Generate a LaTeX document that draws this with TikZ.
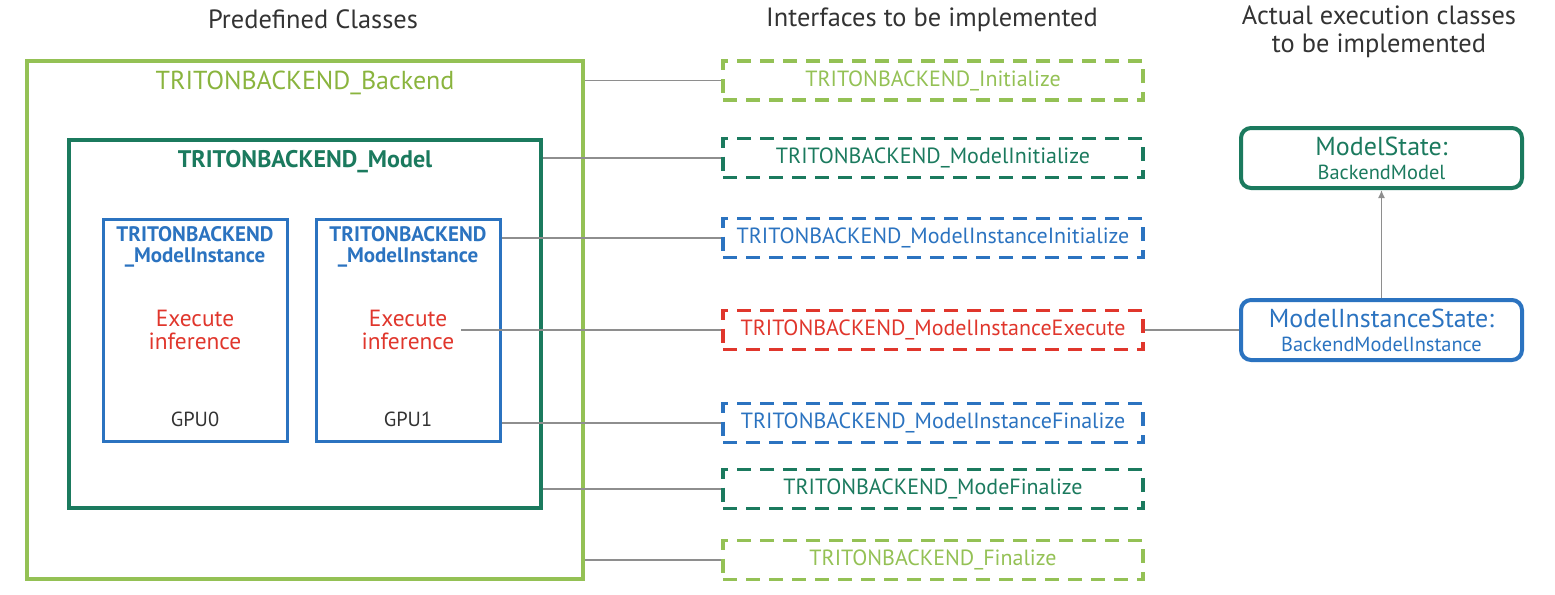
\documentclass[tikz,border=0pt]{standalone}
\usepackage{fontspec}
\setmainfont{PT Sans}
\usetikzlibrary{positioning,arrows.meta}

\definecolor{tbLime}{HTML}{94C155}
\definecolor{tbLimeText}{HTML}{8AB43E}
\definecolor{tbTeal}{HTML}{1B7A5E}
\definecolor{tbBlue}{HTML}{2B73C0}
\definecolor{tbRed}{HTML}{E0362C}
\definecolor{tbGray}{HTML}{8E8E8E}
\definecolor{tbText}{HTML}{333333}

\tikzset{
  classbox/.style={draw, line width=2pt, inner sep=0pt},
  instbox/.style={draw=tbBlue, line width=1.5pt, inner sep=0pt, minimum width=92pt, minimum height=111pt},
  ifacebox/.style={draw, dash pattern=on 7pt off 4.5pt, line width=1.6pt, minimum width=210pt,
    minimum height=19.5pt, inner sep=0pt, font=\fontsize{11}{12}\selectfont},
  statebox/.style={draw, rounded corners=5pt, line width=2pt, minimum width=140.5pt,
    minimum height=30pt, inner sep=1pt, align=center},
  link/.style={draw=tbGray, line width=0.75pt},
  heading/.style={text=tbText, font=\fontsize{13.2}{14}\selectfont, align=center},
}

\begin{document}
\begin{tikzpicture}[x=0.5pt, y=-0.5pt]
  \useasboundingbox (0,0) rectangle (1555,595);

  % column headings
  \node[heading] (hpre) at (313,19) {Predefined Classes};
  \node[heading] (hint) at (932,20) {Interfaces to be implemented};
  \node[heading] (hact) at (1379,32) {Actual execution classes\\to be implemented};

  % predefined classes
  \node[classbox, draw=tbLime, minimum width=278pt, minimum height=259pt] (backend) at (305,320) {};
  \node[text=tbLimeText, font=\fontsize{13}{16}\selectfont] (backendtitle) at (305,83) {TRITONBACKEND\_Backend};
  \node[classbox, draw=tbTeal, minimum width=236pt, minimum height=184pt] (model) at (304.5,324) {};
  \node[text=tbTeal, font=\bfseries\fontsize{12}{14}\selectfont] (modeltitle) at (305,162) {TRITONBACKEND\_Model};

  \foreach \n/\x/\g in {1/195/0, 2/408/1} {
    \node[instbox] (inst\n) at (\x,330) {};
    \node[text=tbBlue, font=\bfseries\fontsize{10.5}{10.5}\selectfont, align=center] (insttitle\n) at (\x,246.5)
      {TRITONBACKEND\\\_ModelInstance};
    \node[text=tbRed, font=\fontsize{11.7}{11.5}\selectfont, align=center] (exec\n) at (\x,330) {Execute\\inference};
    \node[text=tbText, font=\fontsize{10.2}{12}\selectfont] (gpu\n) at (\x,419) {GPU\g};
  }

  % interfaces
  \foreach \n/\y/\c/\t in {init/80.5/tbLime/Initialize, minit/158/tbTeal/ModelInitialize,
      iinit/238/tbBlue/ModelInstanceInitialize, iexec/330/tbRed/ModelInstanceExecute,
      ifin/423/tbBlue/ModelInstanceFinalize, mfin/489/tbTeal/ModeFinalize, fin/560/tbLime/Finalize} {
    \node[ifacebox, draw=\c, text=\c] (\n) at (933,\y) {TRITONBACKEND\_\t};
  }

  % execution classes
  \node[statebox, draw=tbTeal, text=tbTeal] (mstate) at (1381.5,158)
    {{\fontsize{13}{14}\selectfont ModelState:}\\{\fontsize{10.2}{11}\selectfont BackendModel}};
  \node[statebox, draw=tbBlue, text=tbBlue] (istate) at (1381.5,330)
    {{\fontsize{13}{14}\selectfont ModelInstanceState:}\\{\fontsize{10.2}{11}\selectfont BackendModelInstance}};

  % connectors
  \draw[link] (backend.east |- init.west) -- (init.west);
  \draw[link] (model.east |- minit.west) -- (minit.west);
  \draw[link] (inst2.east |- iinit.west) -- (iinit.west);
  \draw[link] (exec2.east) -- (exec2.east -| iexec.west);
  \draw[link] (inst2.east |- ifin.west) -- (ifin.west);
  \draw[link] (model.east |- mfin.west) -- (mfin.west);
  \draw[link] (backend.east |- fin.west) -- (fin.west);
  \draw[link] (iexec.east) -- (istate.west);
  \draw[link, -{Latex[length=4pt, width=3.5pt]}] (istate.north) -- (mstate.south);
\end{tikzpicture}
\end{document}
